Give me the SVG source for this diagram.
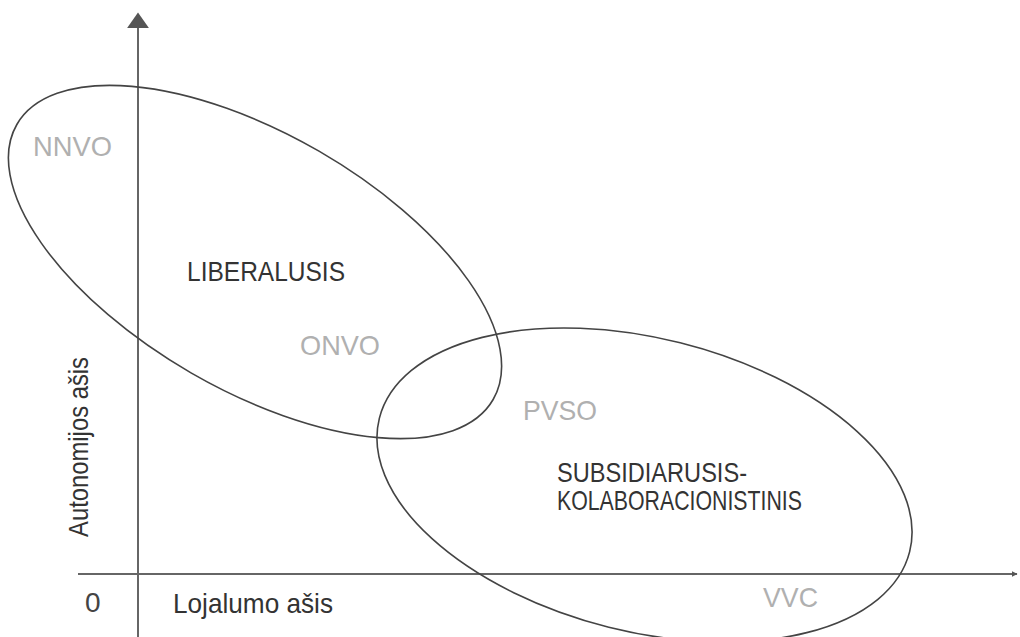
<svg xmlns="http://www.w3.org/2000/svg" width="1020" height="637" viewBox="0 0 1020 637">
<style>
text{font-family:"Liberation Sans",Arial,sans-serif}
.lbl{fill:#333;font-size:28px}
.g{fill:#b0b0b0;font-size:28px}
.ax{stroke:#666;stroke-width:2;fill:none}
.el{stroke:#444;stroke-width:1.6;fill:none}
</style>
<defs>
<marker id="ah" viewBox="0 0 10 10" refX="9" refY="5" markerWidth="6" markerHeight="6" orient="auto" markerUnits="userSpaceOnUse">
<path d="M0,0 L10,5 L0,10 z" fill="#555"/>
</marker>
<marker id="ah2" viewBox="0 0 10 14" refX="9" refY="7" markerWidth="16" markerHeight="22" orient="auto" markerUnits="userSpaceOnUse">
<path d="M0,0 L10,7 L0,14 z" fill="#555"/>
</marker>
</defs>
<g id="axes">
<line class="ax" x1="138" y1="637" x2="138" y2="14" marker-end="url(#ah2)"/>
<line class="ax" x1="78" y1="574" x2="1017" y2="574" marker-end="url(#ah)"/>
</g>
<g id="liberalusis">
<ellipse class="el" cx="255" cy="262" rx="275" ry="128" transform="rotate(30 255 262)"/>
<text class="lbl" x="187" y="281" textLength="158" lengthAdjust="spacingAndGlyphs">LIBERALUSIS</text>
</g>
<g id="subsidiarusis">
<ellipse class="el" cx="644.5" cy="485" rx="273.4" ry="146.6" transform="rotate(14.1 644.5 485)"/>
<text class="lbl" x="557" y="482" textLength="190" lengthAdjust="spacingAndGlyphs">SUBSIDIARUSIS-</text>
<text class="lbl" x="557" y="510" textLength="245" lengthAdjust="spacingAndGlyphs">KOLABORACIONISTINIS</text>
</g>
<g id="labels">
<text class="g" x="33" y="156" textLength="79" lengthAdjust="spacingAndGlyphs">NNVO</text>
<text class="g" x="300" y="355" textLength="80" lengthAdjust="spacingAndGlyphs">ONVO</text>
<text class="g" x="523" y="420" textLength="74" lengthAdjust="spacingAndGlyphs">PVSO</text>
<text class="g" x="763" y="607" textLength="55" lengthAdjust="spacingAndGlyphs">VVC</text>
<text class="lbl" x="85" y="612" style="fill:#444">0</text>
<text class="lbl" x="173" y="613" textLength="160" lengthAdjust="spacingAndGlyphs">Lojalumo ašis</text>
<text class="lbl" transform="translate(88 537) rotate(-90)" textLength="180" lengthAdjust="spacingAndGlyphs">Autonomijos ašis</text>
</g>
</svg>
